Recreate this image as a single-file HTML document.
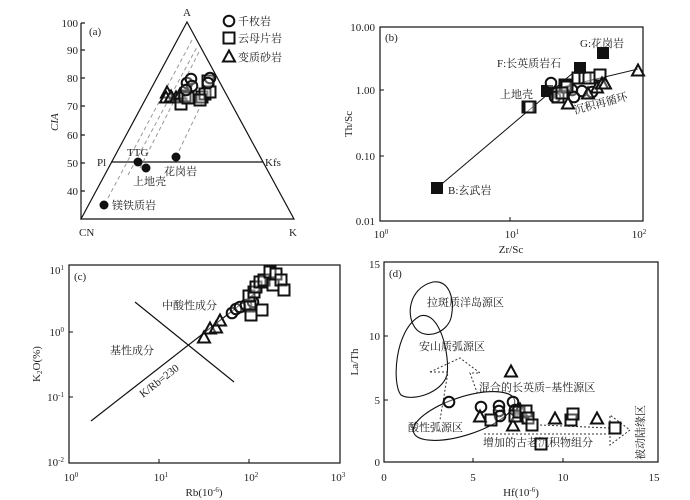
<!DOCTYPE html>
<html><head><meta charset="utf-8"><style>
html,body{margin:0;padding:0;background:#fff}
svg{display:block}
text{font-family:"Liberation Serif","Noto Serif CJK SC",serif;fill:#222}
.t{font-size:11px}
.c{font-size:11px;font-family:"Liberation Serif","Noto Serif CJK SC",serif}
</style></head><body>
<svg width="690" height="500" viewBox="0 0 690 500" xmlns="http://www.w3.org/2000/svg">
<defs>
<circle id="ci" r="5.3" fill="#fff" fill-opacity="0.3" stroke="#111" stroke-width="2"/>
<rect id="sq" x="-5.5" y="-5.5" width="11" height="11" fill="#fff" fill-opacity="0.3" stroke="#111" stroke-width="2"/>
<path id="tr" d="M0,-6.5 L6,4.5 L-6,4.5 Z" fill="#fff" fill-opacity="0.3" stroke="#111" stroke-width="2"/>
<rect id="fs" x="-6" y="-6" width="12" height="12" fill="#111"/>
</defs>

<!-- Panel (a) -->
<g stroke="#111" stroke-width="1.2" fill="none">
<line x1="81" y1="23" x2="81" y2="219"/>
<line x1="81" y1="23" x2="85" y2="23"/><line x1="81" y1="50" x2="85" y2="50"/><line x1="81" y1="78" x2="85" y2="78"/><line x1="81" y1="106" x2="85" y2="106"/><line x1="81" y1="135" x2="85" y2="135"/><line x1="81" y1="163" x2="85" y2="163"/><line x1="81" y1="191" x2="85" y2="191"/>
<path d="M81,219 L294,219 L187,22 Z"/>
<line x1="111" y1="162" x2="263" y2="162"/>
</g>
<g stroke="#999" stroke-width="1" stroke-dasharray="4,3">
<line x1="108" y1="198" x2="192" y2="40"/>
<line x1="128" y1="175" x2="197" y2="47"/>
<line x1="140" y1="168" x2="200" y2="50"/>
<line x1="176" y1="157" x2="212" y2="82"/>
</g>
<g class="t" text-anchor="end">
<text x="78" y="27">100</text><text x="78" y="54">90</text><text x="78" y="82">80</text><text x="78" y="110">70</text><text x="78" y="139">60</text><text x="78" y="167">50</text><text x="78" y="195">40</text>
</g>
<text class="t" x="89" y="35">(a)</text>
<text class="t" x="183" y="16">A</text>
<text class="t" x="79" y="236">CN</text>
<text class="t" x="289" y="236">K</text>
<text class="t" x="97" y="166">Pl</text>
<text class="t" x="265" y="166">Kfs</text>
<text class="t" transform="translate(58,131) rotate(-90)" font-style="italic">CIA</text>
<text class="c" x="127" y="156">TTG</text>
<text class="c" x="133" y="185">上地壳</text>
<text class="c" x="164" y="175">花岗岩</text>
<text class="c" x="112" y="209">镁铁质岩</text>
<g fill="#111"><circle cx="104" cy="205" r="4.5"/><circle cx="138" cy="162" r="4.5"/><circle cx="146" cy="168" r="4.5"/><circle cx="176" cy="157" r="4.5"/></g>
<use href="#ci" x="229" y="21"/><text class="c" x="238" y="25">千枚岩</text>
<use href="#sq" x="229" y="38"/><text class="c" x="238" y="42">云母片岩</text>
<use href="#tr" x="229" y="57"/><text class="c" x="238" y="61">变质砂岩</text>
<use href="#tr" x="167" y="93"/><use href="#tr" x="166" y="98"/><use href="#tr" x="171" y="97"/><use href="#tr" x="176" y="98"/><use href="#tr" x="180" y="95"/>
<use href="#sq" x="181" y="104"/><use href="#sq" x="185" y="96"/><use href="#sq" x="188" y="98"/><use href="#sq" x="202" y="97"/><use href="#sq" x="205" y="94"/><use href="#sq" x="210" y="92"/><use href="#sq" x="208" y="81"/><use href="#sq" x="200" y="100"/>
<use href="#ci" x="187" y="83"/><use href="#ci" x="191" y="79"/><use href="#ci" x="192" y="86"/><use href="#ci" x="186" y="90"/><use href="#ci" x="210" y="78"/><use href="#ci" x="208" y="83"/>

<!-- Panel (b) -->
<rect x="380" y="27" width="263" height="194" fill="none" stroke="#111" stroke-width="1.2"/>
<g stroke="#111" stroke-width="1"><line x1="380" y1="90" x2="384" y2="90"/><line x1="380" y1="156" x2="384" y2="156"/><line x1="510" y1="221" x2="510" y2="217"/></g>
<g class="t" text-anchor="end"><text x="375" y="31">10.00</text><text x="375" y="94">1.00</text><text x="375" y="160">0.10</text><text x="375" y="225">0.01</text></g>
<g class="t" text-anchor="middle"><text x="381" y="238">10<tspan dy="-4" font-size="7">0</tspan></text><text x="512" y="238">10<tspan dy="-4" font-size="7">1</tspan></text><text x="639" y="238">10<tspan dy="-4" font-size="7">2</tspan></text></g>
<text class="t" x="511" y="253" text-anchor="middle">Zr/Sc</text>
<text class="t" transform="translate(352,124) rotate(-90)" text-anchor="middle">Th/Sc</text>
<text class="t" x="385" y="41">(b)</text>
<g stroke="#111" stroke-width="1"><line x1="437" y1="188" x2="580" y2="67"/><line x1="550" y1="90" x2="638" y2="69"/></g>
<use href="#fs" x="437" y="188"/><use href="#fs" x="580" y="68"/><use href="#fs" x="603" y="53"/><use href="#fs" x="547" y="91"/>
<circle cx="553" cy="95" r="4" fill="#111"/>
<use href="#ci" x="551" y="83"/><use href="#ci" x="555" y="97"/><use href="#ci" x="572" y="90"/><use href="#ci" x="574" y="97"/><use href="#ci" x="582" y="91"/><use href="#ci" x="592" y="92"/>
<use href="#sq" x="528" y="107"/><use href="#sq" x="530" y="107"/><use href="#sq" x="558" y="97"/><use href="#sq" x="565" y="85"/><use href="#sq" x="567" y="87"/><use href="#sq" x="578" y="78"/><use href="#sq" x="585" y="78"/><use href="#sq" x="589" y="78"/><use href="#sq" x="600" y="75"/><use href="#sq" x="562" y="93"/>
<use href="#tr" x="568" y="104"/><use href="#tr" x="588" y="94"/><use href="#tr" x="597" y="88"/><use href="#tr" x="602" y="84"/><use href="#tr" x="605" y="84"/><use href="#tr" x="638" y="71"/>
<text class="c" x="448" y="194">B:玄武岩</text>
<text class="c" x="497" y="67">F:长英质岩石</text>
<text class="c" x="580" y="47">G:花岗岩</text>
<text class="c" x="500" y="98">上地壳</text>
<text class="c" transform="translate(575,114) rotate(-15)">沉积再循环</text>

<!-- Panel (c) -->
<rect x="69" y="265" width="271" height="198" fill="none" stroke="#111" stroke-width="1.2"/>
<g stroke="#111" stroke-width="1"><line x1="69" y1="332" x2="73" y2="332"/><line x1="69" y1="397" x2="73" y2="397"/><line x1="159" y1="463" x2="159" y2="459"/><line x1="249" y1="463" x2="249" y2="459"/></g>
<g class="t" text-anchor="end"><text x="64" y="274">10<tspan dy="-4" font-size="7">1</tspan></text><text x="64" y="336">10<tspan dy="-4" font-size="7">0</tspan></text><text x="64" y="401">10<tspan dy="-4" font-size="7">-1</tspan></text><text x="64" y="466">10<tspan dy="-4" font-size="7">-2</tspan></text></g>
<g class="t" text-anchor="middle"><text x="71" y="481">10<tspan dy="-4" font-size="7">0</tspan></text><text x="161" y="481">10<tspan dy="-4" font-size="7">1</tspan></text><text x="251" y="481">10<tspan dy="-4" font-size="7">2</tspan></text><text x="338" y="481">10<tspan dy="-4" font-size="7">3</tspan></text></g>
<text class="t" x="204" y="496" text-anchor="middle">Rb(10<tspan dy="-4" font-size="7">-6</tspan><tspan dy="4">)</tspan></text>
<text class="t" transform="translate(40,364) rotate(-90)" text-anchor="middle">K<tspan font-size="7" dy="2">2</tspan><tspan dy="-2">O(%)</tspan></text>
<text class="t" x="74" y="280">(c)</text>
<g stroke="#111" stroke-width="1.2"><line x1="91" y1="421" x2="268" y2="283"/><line x1="135" y1="302" x2="234" y2="382"/></g>
<text class="c" x="162" y="309">中酸性成分</text>
<text class="c" x="110" y="354">基性成分</text>
<text class="c" transform="translate(143,398) rotate(-38)">K/Rb=230</text>
<use href="#tr" x="204" y="338"/><use href="#tr" x="210" y="329"/><use href="#tr" x="216" y="328"/><use href="#tr" x="220" y="321"/>
<use href="#ci" x="232" y="313"/><use href="#ci" x="236" y="309"/><use href="#ci" x="240" y="307"/><use href="#ci" x="246" y="305"/><use href="#ci" x="253" y="302"/>
<use href="#sq" x="250" y="306"/><use href="#sq" x="249" y="296"/><use href="#sq" x="251" y="315"/><use href="#sq" x="254" y="292"/><use href="#sq" x="256" y="287"/><use href="#sq" x="260" y="282"/><use href="#sq" x="264" y="280"/><use href="#sq" x="270" y="272"/><use href="#sq" x="276" y="274"/><use href="#sq" x="273" y="285"/><use href="#sq" x="281" y="280"/><use href="#sq" x="284" y="290"/><use href="#sq" x="262" y="310"/>

<!-- Panel (d) -->
<rect x="384" y="262" width="274" height="200" fill="none" stroke="#111" stroke-width="1.2"/>
<g stroke="#111" stroke-width="1"><line x1="384" y1="336" x2="388" y2="336"/><line x1="384" y1="400" x2="388" y2="400"/><line x1="473" y1="462" x2="473" y2="458"/><line x1="563" y1="462" x2="563" y2="458"/></g>
<g class="t" text-anchor="end"><text x="380" y="268">15</text><text x="380" y="340">10</text><text x="380" y="404">5</text><text x="380" y="466">0</text></g>
<g class="t" text-anchor="middle"><text x="384" y="481">0</text><text x="473" y="481">5</text><text x="563" y="481">10</text><text x="654" y="481">15</text></g>
<text class="t" x="521" y="496" text-anchor="middle">Hf(10<tspan dy="-4" font-size="7">-6</tspan><tspan dy="4">)</tspan></text>
<text class="t" transform="translate(358,362) rotate(-90)" text-anchor="middle">La/Th</text>
<text class="t" x="389" y="277">(d)</text>
<g fill="none" stroke="#111" stroke-width="1.1">
<path d="M433,282 C450,280 455,300 451,318 C447,332 428,340 417,330 C405,318 408,288 433,282 Z"/>
<path d="M420,316 C440,310 450,355 447,375 C442,393 412,402 401,395 C392,385 394,330 420,316 Z"/>
<ellipse cx="464" cy="416" rx="53" ry="19" transform="rotate(-18 464 416)"/>
</g>
<g fill="none" stroke="#333" stroke-width="1" stroke-dasharray="2,2">
<path d="M430,372 L460,358 L480,373 L470,373 L478,395"/>
<path d="M430,372 L448,372 L440,420"/>
<path d="M484,434 L610,434 L610,445 L630,430 L610,415 L610,428 L540,425"/>
</g>
<text class="c" x="427" y="306">拉斑质洋岛源区</text>
<text class="c" x="419" y="350">安山质弧源区</text>
<text class="c" x="479" y="391">混合的长英质−基性源区</text>
<text class="c" x="408" y="431">酸性弧源区</text>
<text class="c" x="483" y="446">增加的古老沉积物组分</text>
<text class="c" transform="translate(644,460) rotate(-90)">被动陆缘区</text>
<g>
<use href="#ci" x="449" y="402"/><use href="#ci" x="481" y="407"/><use href="#ci" x="499" y="406"/><use href="#ci" x="499" y="411"/><use href="#ci" x="500" y="416"/><use href="#ci" x="513" y="402"/><use href="#ci" x="515" y="410"/>
<use href="#tr" x="480" y="417"/><use href="#tr" x="511" y="372"/><use href="#tr" x="513" y="426"/><use href="#tr" x="520" y="410"/><use href="#tr" x="522" y="413"/><use href="#tr" x="555" y="419"/><use href="#tr" x="597" y="419"/><use href="#tr" x="517" y="417"/>
<use href="#sq" x="491" y="420"/><use href="#sq" x="515" y="416"/><use href="#sq" x="519" y="412"/><use href="#sq" x="526" y="411"/><use href="#sq" x="528" y="418"/><use href="#sq" x="532" y="425"/><use href="#sq" x="541" y="444"/><use href="#sq" x="571" y="420"/><use href="#sq" x="573" y="414"/><use href="#sq" x="615" y="428"/>
</g>
</svg>
</body></html>
